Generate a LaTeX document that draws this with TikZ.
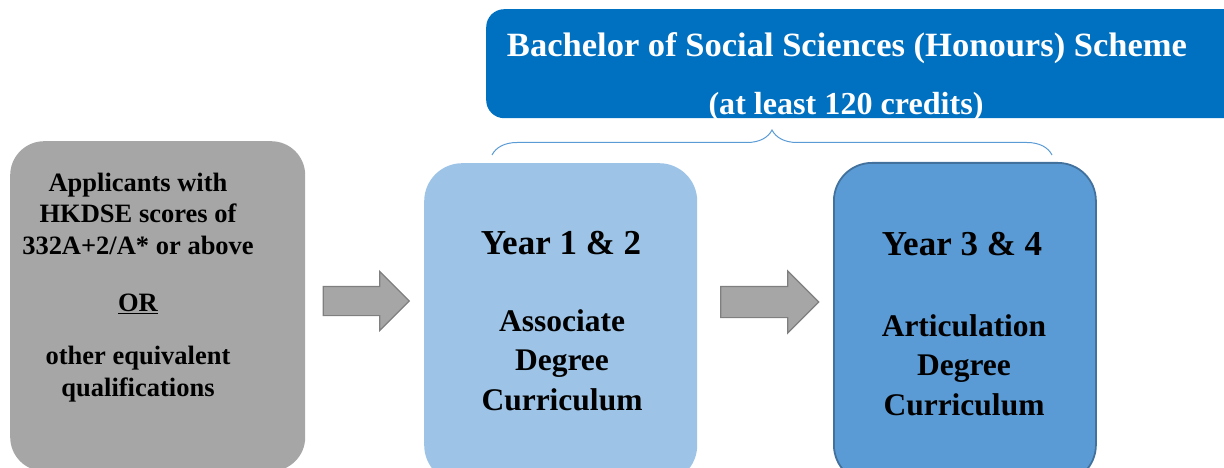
\documentclass[tikz,border=0pt]{standalone}
\usepackage{fontspec}
\usepackage{graphicx}
\setmainfont{Liberation Serif}
\usetikzlibrary{shapes.arrows,decorations.pathreplacing}
\definecolor{bannerblue}{HTML}{0070C0}
\definecolor{paleblue}{HTML}{9DC3E6}
\definecolor{midblue}{HTML}{5B9BD5}
\definecolor{midblueline}{HTML}{41719C}
\definecolor{boxgrey}{HTML}{A6A6A6}
\definecolor{arrowline}{HTML}{7F7F7F}
\begin{document}
\begin{tikzpicture}[x=1pt,y=-1pt,
    box/.style={anchor=north west,rounded corners=38pt,inner sep=0pt},
    boxtext/.style={font=\bfseries,align=center,anchor=base,inner sep=0pt},
    blockarrow/.style={single arrow,fill=boxgrey,draw=arrowline,line width=1.2pt,
      inner xsep=0pt,single arrow head indent=0pt}]
  \useasboundingbox (0,0) rectangle (1224,468);
  \clip (0,0) rectangle (1224,468);

  % banner
  \node[box,rounded corners=18pt,fill=bannerblue,minimum width=760pt,minimum height=109pt]
    (banner) at (486,9) {};
  \node[boxtext,text=white,font=\bfseries\fontsize{34}{40}\selectfont]
    (title) at (847,57) {\resizebox{680pt}{\height}{Bachelor of Social Sciences (Honours) Scheme}};
  \node[boxtext,text=white,font=\bfseries\fontsize{32}{40}\selectfont]
    (credits) at (846,115) {\resizebox{275pt}{\height}{(at least 120 credits)}};

  % brace
  \coordinate (braceL) at (492,155);
  \coordinate (braceR) at (1052,155);
  \draw[midblue,line width=1pt,decorate,decoration={brace,amplitude=25pt}]
    (braceL) -- (braceR);

  % boxes
  \node[box,rounded corners=34pt,fill=boxgrey,minimum width=295pt,minimum height=330pt]
    (entry) at (10,141) {};
  \node[box,fill=paleblue,minimum width=273pt,minimum height=320pt]
    (years12) at (424,163) {};
  \node[box,fill=midblue,draw=midblueline,line width=1.8pt,minimum width=262pt,minimum height=320pt]
    (years34) at (833,162) {};

  % texts (base = last line)
  \node[boxtext,font=\bfseries\fontsize{26.5}{31.5}\selectfont] (entrytext) at (138,396)
    {Applicants with\\HKDSE scores of\\332A+2/A* or above\\[26pt]\underline{OR}\\[21.5pt]
     other equivalent\\qualifications};
  \node[boxtext,font=\bfseries\fontsize{35}{40}\selectfont] (y12head) at (561,254) {Year 1 \& 2};
  \node[boxtext,font=\bfseries\fontsize{31.5}{39.5}\selectfont] (y12text) at (562,410)
    {Associate\\Degree\\Curriculum};
  \node[boxtext,font=\bfseries\fontsize{35}{40}\selectfont] (y34head) at (962,255) {Year 3 \& 4};
  \node[boxtext,font=\bfseries\fontsize{31.5}{39.5}\selectfont] (y34text) at (964,415)
    {Articulation\\Degree\\Curriculum};

  % arrows
  \node[blockarrow,inner ysep=14pt,single arrow head extend=15pt,minimum height=86pt]
    (arrow1) at (359,301) {};
  \node[blockarrow,inner ysep=15pt,single arrow head extend=15.5pt,minimum height=98pt]
    (arrow2) at (762,302) {};
\end{tikzpicture}
\end{document}
